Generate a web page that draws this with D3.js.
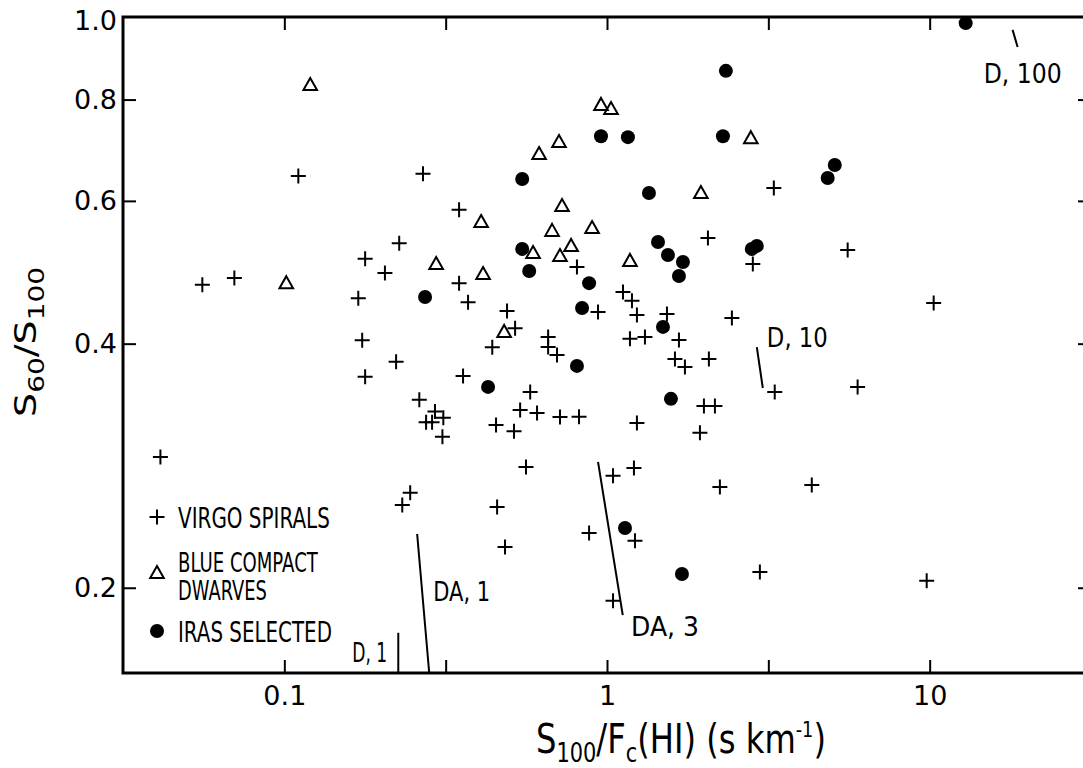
<!DOCTYPE html>
<html>
<head>
<meta charset="utf-8">
<script src="https://cdn.jsdelivr.net/npm/d3@7"></script>
<style>
  html, body { margin: 0; padding: 0; background: #fff; }
  svg { display: block; }
  text { font-family: "DejaVu Sans", sans-serif; fill: #000; }
</style>
</head>
<body>
<div id="chart"></div>
<script>
// Virgo spirals (+)
const virgoX = [0.0413, 0.0557, 0.0700, 0.1105, 0.178, 0.227, 0.205, 0.1695, 0.1743, 0.222,
                0.178, 0.269, 0.348, 0.348, 0.371, 0.441, 0.358, 0.262, 0.293, 0.275,
                0.287, 0.311, 0.309, 0.453, 0.2455, 0.232, 0.4565, 0.483, 0.561, 0.490,
                0.519, 0.578, 0.538, 0.607, 0.715, 0.819, 0.515, 0.657, 0.657, 0.700,
                0.807, 0.938, 1.121, 1.195, 1.238, 1.178, 1.311, 1.534, 1.671, 1.624,
                1.744, 2.069, 1.997, 2.160, 1.238, 1.941, 2.438, 2.831, 2.055, 3.289,
                5.57, 10.29, 3.31, 5.98, 1.044, 1.212, 2.238, 4.312, 0.880, 1.221,
                2.977, 9.79, 1.044];
const virgoY = [0.290, 0.473, 0.482, 0.644, 0.509, 0.532, 0.489, 0.455, 0.404, 0.380,
                0.364, 0.648, 0.585, 0.475, 0.450, 0.396, 0.365, 0.341, 0.330, 0.320,
                0.320, 0.324, 0.307, 0.3175, 0.262, 0.253, 0.2516, 0.2245, 0.2818, 0.4388,
                0.418, 0.3487, 0.3314, 0.3286, 0.3249, 0.325, 0.312, 0.4077, 0.3963, 0.3874,
                0.4973, 0.4377, 0.4632, 0.4517, 0.434, 0.4055, 0.4077, 0.435, 0.4043, 0.383,
                0.3744, 0.383, 0.3352, 0.335, 0.3193, 0.3105, 0.4302, 0.5016, 0.540, 0.6224,
                0.522, 0.449, 0.3487, 0.3538, 0.2748, 0.281, 0.2663, 0.2678, 0.2337, 0.2285,
                0.2092, 0.204, 0.1927];

// blue compact dwarves (open triangles)
const bcdX = [0.1203, 0.958, 1.029, 0.710, 0.616, 2.791, 1.954, 0.7255, 0.4073, 0.6757,
              0.899, 0.590, 0.715, 0.774, 1.178, 0.1014, 0.2955, 0.413, 0.480];
const bcdY = [0.834, 0.788, 0.779, 0.709, 0.6855, 0.717, 0.6137, 0.5914, 0.565, 0.551,
              0.5554, 0.5175, 0.513, 0.528, 0.506, 0.475, 0.5016, 0.4876, 0.4136];

// IRAS selected (filled dots)
const irasX = [12.93, 2.336, 0.958, 1.161, 2.287, 0.546, 1.349, 5.08, 4.83, 1.439,
               2.81, 2.913, 0.546, 1.545, 1.719, 0.574, 1.671, 0.273, 0.880, 0.837,
               1.491, 0.807, 0.428, 1.578, 1.137, 1.707];
const irasY = [0.994, 0.868, 0.721, 0.719, 0.721, 0.6385, 0.6137, 0.6643, 0.6404, 0.5339,
               0.5235, 0.528, 0.5235, 0.5146, 0.5045, 0.4917, 0.4848, 0.4567, 0.475, 0.4427,
               0.4195, 0.3755, 0.3538, 0.342, 0.237, 0.208];

// model tracks
const modelNames = ["D, 1", "DA, 1", "DA, 3", "D, 10", "D, 100"];
const modelX = [[0.2255, 0.2255], [0.258, 0.2812], [0.938, 1.119], [2.913, 3.04], [18.07, 18.73]];
const modelY = [[0.176, 0.157], [0.233, 0.157], [0.2859, 0.185], [0.396, 0.3527], [0.975, 0.929]];

// ticks
const xTickValues = [0.1, Math.sqrt(0.1), 1, Math.sqrt(10), 10];
const xTickLabels = ["0.1", "", "1", "", "10"];
const yTickValues = [0.2, 0.4, 0.6, 0.8, 1.0];
const yTickLabels = ["0.2", "0.4", "0.6", "0.8", "1.0"];

const legendLabels = [["VIRGO SPIRALS"], ["BLUE COMPACT", "DWARVES"], ["IRAS SELECTED"]];

// label placement (data coords of left/baseline) and widths
const modelLabelAt = [[0.1623, 0.162], [0.2893, 0.1927], [1.187, 0.1745], [3.129, 0.396], [14.7, 0.839]];
const modelLabelWidth = [35, 57, 68, 61, 78];

const width = 1083;
const height = 768;
const marginLeft = 123;
const marginTop = 17;
const chartWidth = 968;   // right edge falls just off the page
const chartHeight = 656;

const xScale = d3.scaleLog()
    .domain([Math.pow(10, -1.5), Math.pow(10, 1.5)])
    .range([0, chartWidth]);

const yScale = d3.scaleLog()
    .domain([0.157, 1.0114])
    .range([chartHeight, 0]);

let svg = d3.select('#chart')
    .append('svg')
        .attr('width', width)
        .attr('height', height);

svg.append('rect')
    .attr('width', width).attr('height', height).attr('fill', '#fff');

let g = svg.append('g')
    .attr('transform', `translate(${marginLeft}, ${marginTop})`);

// squeeze a text horizontally so it takes the target width
function squeeze(grp, text, target) {
    const w = text.node().getBBox().width;
    const s = target / w;
    grp.attr('transform', grp.attr('transform') + ` scale(${s}, 1)`);
}

function fittedText(parent, x, y, size, str, target) {
    let grp = parent.append('g').attr('transform', `translate(${x}, ${y})`);
    let t = grp.append('text').attr('font-size', size).text(str);
    squeeze(grp, t, target);
    return grp;
}

// axes, ticks pointing inward
function styleAxis(ax) {
    ax.select('.domain').remove();
    ax.selectAll('.tick line').attr('stroke', '#000').attr('stroke-width', 2);
    ax.selectAll('.tick text')
        .attr('font-family', '"DejaVu Sans", sans-serif')
        .attr('font-size', 27)
        .attr('fill', '#000');
}

let xAxis = g.append('g')
    .attr('transform', `translate(0, ${chartHeight})`)
    .call(d3.axisBottom(xScale)
        .tickValues(xTickValues)
        .tickSizeInner(-13).tickSizeOuter(0).tickPadding(13)
        .tickFormat((d, i) => xTickLabels[i]));
styleAxis(xAxis);

let xAxisTop = g.append('g')
    .call(d3.axisTop(xScale)
        .tickValues(xTickValues)
        .tickSizeInner(-13).tickSizeOuter(0)
        .tickFormat(''));
styleAxis(xAxisTop);

let yAxis = g.append('g')
    .call(d3.axisLeft(yScale)
        .tickValues(yTickValues)
        .tickSizeInner(-13).tickSizeOuter(0).tickPadding(6)
        .tickFormat((d, i) => yTickLabels[i]));
styleAxis(yAxis);
yAxis.selectAll('.tick').filter(d => d === 1).select('line').remove();

let yAxisRight = g.append('g')
    .attr('transform', `translate(${chartWidth}, 0)`)
    .call(d3.axisRight(yScale)
        .tickValues(yTickValues.slice(0, 4))
        .tickSizeInner(-13).tickSizeOuter(0)
        .tickFormat(''));
styleAxis(yAxisRight);

// frame
g.append('rect')
    .attr('width', chartWidth)
    .attr('height', chartHeight)
    .attr('fill', 'none')
    .attr('stroke', '#000')
    .attr('stroke-width', 3);

// model tracks
const trackLine = d3.line().x(d => xScale(d[0])).y(d => yScale(d[1]));
modelNames.forEach((name, i) => {
    const pts = modelX[i].map((x, j) => [x, modelY[i][j]]);
    g.append('path')
        .attr('d', trackLine(pts))
        .attr('fill', 'none')
        .attr('stroke', '#000')
        .attr('stroke-width', 2);
    fittedText(g, xScale(modelLabelAt[i][0]), yScale(modelLabelAt[i][1]), 26, name, modelLabelWidth[i]);
});

// markers
const plusPath = 'M-7.5,0H7.5M0,-7.5V7.5';
const triPath = 'M0,-7L6.8,5L-6.8,5Z';

const virgoData = virgoX.map((x, i) => ({x: x, y: virgoY[i]}));
const bcdData = bcdX.map((x, i) => ({x: x, y: bcdY[i]}));
const irasData = irasX.map((x, i) => ({x: x, y: irasY[i]}));

g.selectAll('path.virgo')
    .data(virgoData)
    .enter()
        .append('path')
            .attr('class', 'virgo')
            .attr('d', plusPath)
            .attr('transform', d => `translate(${xScale(d.x)}, ${yScale(d.y)})`)
            .attr('stroke', '#000')
            .attr('stroke-width', 2)
            .attr('fill', 'none');

g.selectAll('path.bcd')
    .data(bcdData)
    .enter()
        .append('path')
            .attr('class', 'bcd')
            .attr('d', triPath)
            .attr('transform', d => `translate(${xScale(d.x)}, ${yScale(d.y)})`)
            .attr('stroke', '#000')
            .attr('stroke-width', 2)
            .attr('fill', 'none');

g.selectAll('circle.iras')
    .data(irasData)
    .enter()
        .append('circle')
            .attr('class', 'iras')
            .attr('cx', d => xScale(d.x))
            .attr('cy', d => yScale(d.y))
            .attr('r', 7)
            .attr('fill', '#000');

// legend
const legendTextWidth = [[152], [140, 89], [154]];
const legendRowY = [517, 573, 631];
let legend = svg.append('g');
legendRowY.forEach((ly, i) => {
    if (i === 0) {
        legend.append('path').attr('d', plusPath)
            .attr('transform', `translate(157, ${ly})`)
            .attr('stroke', '#000').attr('stroke-width', 2);
    } else if (i === 1) {
        legend.append('path').attr('d', triPath)
            .attr('transform', `translate(157, ${ly})`)
            .attr('stroke', '#000').attr('stroke-width', 2).attr('fill', 'none');
    } else {
        legend.append('circle').attr('cx', 157).attr('cy', ly).attr('r', 7).attr('fill', '#000');
    }
    const lines = legendLabels[i];
    lines.forEach((t, j) => {
        const base = lines.length === 1 ? ly + 11 : ly - 1 + j * 28;
        fittedText(legend, 178, base, lines.length === 1 ? 28 : 26, t, legendTextWidth[i][j]);
    });
});

// x axis title
let xt = svg.append('g').attr('transform', 'translate(536, 753)');
let xText = xt.append('text').attr('font-size', 40);
xText.append('tspan').text('S');
xText.append('tspan').attr('font-size', 26).attr('dy', 9).text('100');
xText.append('tspan').attr('dy', -9).text('/');
xText.append('tspan').text('F');
xText.append('tspan').attr('font-size', 26).attr('dy', 9).text('c');
xText.append('tspan').attr('dy', -9).text('(HI)  (s km');
xText.append('tspan').attr('font-size', 22).attr('dy', -16).text('-1');
xText.append('tspan').attr('dy', 16).text(')');
squeeze(xt, xText, 290);

// y axis title
let yt = svg.append('g').attr('transform', 'translate(36, 417) rotate(-90)');
let yText = yt.append('text').attr('font-size', 30);
yText.append('tspan').text('S');
yText.append('tspan').attr('font-size', 22).attr('dy', 8).text('60');
yText.append('tspan').attr('dy', -8).text('/S');
yText.append('tspan').attr('font-size', 22).attr('dy', 8).text('100');
squeeze(yt, yText, 150);
</script>
</body>
</html>
